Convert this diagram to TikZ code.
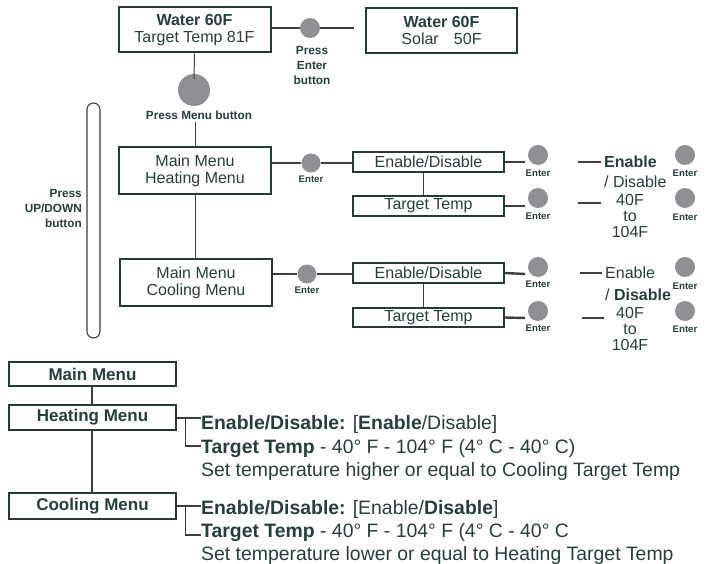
\documentclass[tikz,border=0pt]{standalone}
\usepackage{fontspec}
\setmainfont{Liberation Sans}
\definecolor{txt}{RGB}{38,62,60}
\definecolor{boxc}{RGB}{36,58,56}
\definecolor{linec}{RGB}{58,64,60}
\definecolor{btn}{RGB}{143,143,148}
\begin{document}
\begin{tikzpicture}[x=1pt,y=-1pt,
  lcdbox/.style={draw=boxc, line width=2pt, inner sep=0pt, align=center, text=txt,
    font=\fontsize{16}{17}\selectfont},
  menubox/.style={draw=boxc, line width=2.1pt, inner sep=0pt, align=center, text=txt,
    minimum width=167, font=\fontsize{17}{19}\selectfont\bfseries},
  button/.style={circle, fill=btn, inner sep=0pt, minimum size=#1},
  button/.default=19,
  lbl/.style={text=txt, inner sep=0pt, align=center, font=\fontsize{11.8}{15}\selectfont\bfseries},
  enterlbl/.style={text=txt, inner sep=0pt, font=\fontsize{9.6}{11}\selectfont\bfseries},
  val/.style={text=txt, inner sep=0pt, align=center, font=\fontsize{16}{16}\selectfont},
  desc/.style={text=txt, inner sep=0pt, anchor=base west, font=\fontsize{19.4}{22}\selectfont},
  conn/.style={draw=linec, line width=1.4pt},
  thin/.style={draw=linec, line width=1pt},
  stub/.style={draw=linec, line width=2.4pt},
]
\useasboundingbox (0,0) rectangle (710,564);

% ---------- top row ----------
\node[lcdbox, minimum width=152, minimum height=45] (top1) at (194.5,30) {\textbf{Water 60F}\\Target Temp 81F};
\node[lcdbox, minimum width=151, minimum height=45] (top2) at (441.5,30.5) {\textbf{Water 60F}\\Solar\hspace{0.95em}50F};
\node[button=20] (c1) at (310,28) {};
\coordinate (e1) at (354,28);
\node[lbl] (pe) at (312,66) {Press\\Enter\\button};
\draw[conn] (top1.east |- c1.west) -- (c1.west);
\draw[conn] (c1.east) -- (e1);

\node[button=32] (c0) at (194,90) {};
\node[lbl] (pm) at (199,115) {Press Menu button};
\draw[thin] (top1.south) -- ([yshift=-5pt]c0.north);

% ---------- main menu boxes ----------
\node[lcdbox, minimum width=152, minimum height=47] (heat) at (195,170.5) {Main Menu\\Heating Menu};
\node[lcdbox, minimum width=152, minimum height=47] (cool) at (196,282.5) {Main Menu\\Cooling Menu};
\draw[thin] (heat.north |- pm.south) ++(0,2) -- (heat.north);
\draw[thin] (heat.south) -- (heat.south |- cool.north);

% up/down bar
\draw[draw=linec, line width=1.1pt, rounded corners=6.5pt] (87,103) rectangle (100,338);
\node[lbl, align=right, anchor=east] (udl) at (82,208) {Press\\UP/DOWN\\button};

% ---------- heating row ----------
\node[button] (h1) at (311,163) {};
\node[enterlbl] (h1l) at (311,179) {Enter};
\node[lcdbox, minimum width=151, minimum height=20] (hed) at (428.5,162) {Enable/Disable};
\node[lcdbox, minimum width=151, minimum height=20] (htt) at (428.5,206) {Target Temp};
\draw[conn] (heat.east |- h1.west) -- (h1.west);
\draw[conn] (h1.east) -- (hed.west |- h1.east);
\draw[thin] ([xshift=-5.5pt]hed.south) -- ([xshift=-5.5pt]htt.north);

\node[button=20] (he1) at (538,155) {};
\node[enterlbl] (he1l) at (538,173) {Enter};
\node[button=20] (ht1) at (538,198) {};
\node[enterlbl] (ht1l) at (538,216) {Enter};
\coordinate (hes) at (525,162);
\coordinate (hts) at (525,206);
\draw[stub] (hed.east) -- (hes);
\draw[stub] (htt.east) -- (hts);

\coordinate (hva) at (578,162);
\coordinate (hvb) at (601,162);
\draw[stub] (hva) -- (hvb);
\node[val, anchor=west] (hen) at (604,162) {\textbf{Enable}};
\node[val, anchor=west] (hdis) at (604,182) {/ Disable};
\node[button=20] (he2) at (685,155) {};
\node[enterlbl] (he2l) at (685,173) {Enter};

\coordinate (hta) at (578,203);
\coordinate (htb) at (601,203);
\draw[stub] (hta) -- (htb);
\node[val] (hrange) at (630,216) {40F\\to\\104F};
\node[button=20] (ht2) at (685,198) {};
\node[enterlbl] (ht2l) at (685,217) {Enter};

% ---------- cooling row ----------
\node[button] (k1) at (307,274) {};
\node[enterlbl] (k1l) at (307,290) {Enter};
\node[lcdbox, minimum width=151, minimum height=20] (ked) at (428.5,273) {Enable/Disable};
\node[lcdbox, minimum width=151, minimum height=19] (ktt) at (428.5,317.5) {Target Temp};
\draw[conn] (cool.east |- k1.west) -- (k1.west);
\draw[conn] (k1.east) -- (ked.west |- k1.east);
\draw[thin] ([xshift=-5.5pt]ked.south) -- ([xshift=-5.5pt]ktt.north);

\node[button=20] (ke1) at (538,267) {};
\node[enterlbl] (ke1l) at (538,284) {Enter};
\node[button=20] (kt1) at (538,311) {};
\node[enterlbl] (kt1l) at (538,328) {Enter};
\coordinate (kes) at (525,274);
\coordinate (kts) at (525,318);
\draw[stub] (ked.east) -- (kes);
\draw[stub] (ktt.east) -- (kts);

\coordinate (kva) at (580,273);
\coordinate (kvb) at (602,273);
\draw[stub] (kva) -- (kvb);
\node[val, anchor=west] (ken) at (605,273) {Enable};
\node[val, anchor=west] (kdis) at (605,295) {/ \textbf{Disable}};
\node[button=20] (ke2) at (685,267) {};
\node[enterlbl] (ke2l) at (685,286) {Enter};

\coordinate (kta) at (582,318);
\coordinate (ktb) at (604,318);
\draw[stub] (kta) -- (ktb);
\node[val] (krange) at (630,329) {40F\\to\\104F};
\node[button=20] (kt2) at (685,311) {};
\node[enterlbl] (kt2l) at (685,329) {Enter};

% ---------- bottom summary ----------
\node[menubox, minimum height=24] (mm) at (92.5,374) {Main Menu};
\node[menubox, minimum height=25] (hm) at (92.5,417.5) {Heating Menu};
\node[menubox, minimum height=26] (cm) at (92.5,506) {Cooling Menu};
\draw[conn] ([xshift=-0.5pt]mm.south) -- ([xshift=-0.5pt]hm.north);
\draw[conn] ([xshift=-0.5pt]hm.south) -- ([xshift=-0.5pt]cm.north);

\node[desc] (hd1) at (201,429) {\textbf{Enable/Disable:} [\textbf{Enable}/Disable]};
\node[desc] (hd2) at (201,453) {\textbf{Target Temp} - 40° F - 104° F (4° C - 40° C)};
\node[desc] (hd3) at (201,476) {Set temperature higher or equal to Cooling Target Temp};
\coordinate (hb1) at (185.5,418);
\coordinate (hb2) at (185.5,446);
\draw[conn] (hm.east |- hb1) -- (hd1.west |- hb1);
\draw[conn] (hb1) -- (hb2) -- (hd2.west |- hb2);

\node[desc] (cd1) at (201,514) {\textbf{Enable/Disable:} [Enable/\textbf{Disable}]};
\node[desc] (cd2) at (201,537) {\textbf{Target Temp} - 40° F - 104° F (4° C - 40° C};
\node[desc] (cd3) at (201,560) {Set temperature lower or equal to Heating Target Temp};
\coordinate (cb1) at (185.5,506);
\coordinate (cb2) at (185.5,535);
\draw[conn] (cm.east |- cb1) -- (cd1.west |- cb1);
\draw[conn] (cb1) -- (cb2) -- (cd2.west |- cb2);
\end{tikzpicture}
\end{document}
